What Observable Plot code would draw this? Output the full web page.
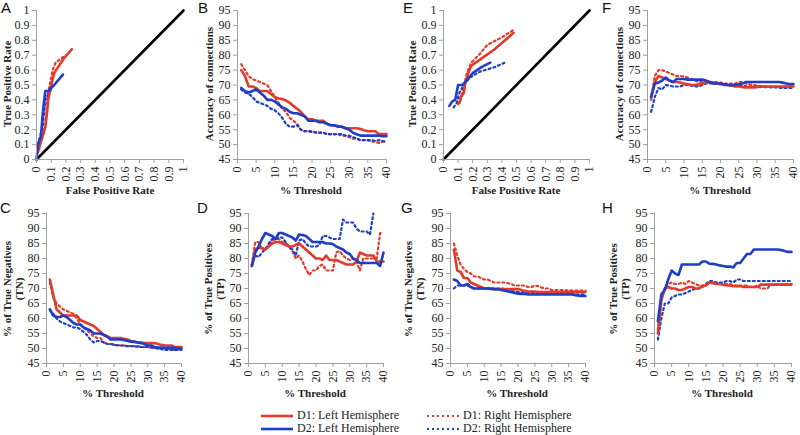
<!DOCTYPE html>
<html><head><meta charset="utf-8">
<script src="https://cdn.jsdelivr.net/npm/d3@7"></script>
<script src="https://cdn.jsdelivr.net/npm/@observablehq/plot@0.6"></script>
<style>
html,body{margin:0;padding:0;background:#fff;}
#root{position:relative;width:800px;height:435px;overflow:hidden;background:#fff;font-family:"Liberation Serif","Times New Roman",Times,"DejaVu Serif",serif;color:#222;}
.panel{position:absolute;}
.letter{position:absolute;font-family:"Liberation Sans",Arial,"DejaVu Sans",sans-serif;font-size:15px;line-height:15px;color:#111;}
.ylab{position:absolute;transform:translate(-50%,-50%) rotate(-90deg);white-space:nowrap;text-align:center;font-weight:bold;font-size:11px;line-height:12px;}
.xlab{position:absolute;transform:translate(-50%,-50%);white-space:nowrap;font-weight:bold;font-size:11px;}
.leg{position:absolute;font-size:12px;white-space:nowrap;display:flex;align-items:center;}
.leg svg{margin-right:3px;}
</style></head>
<body><div id="root"></div>
<script>
// ---------- data ----------
const threshold = [1,2,3,4,5,6,7,8,9,10,11,12,13,14,15,16,17,18,19,20,21,22,23,24,25,26,27,28,29,30,31,32,33,34,35,36,37,38,39,40];
const seriesNames = ["D1: Left Hemisphere","D2: Left Hemisphere","D1: Right Hemisphere","D2: Right Hemisphere"];
const rocTicks = [0,0.1,0.2,0.3,0.4,0.5,0.6,0.7,0.8,0.9,1];
const pctTicks = [45,50,55,60,65,70,75,80,85,90,95];
const thrTicks = [0,5,10,15,20,25,30,35,40];
const diagonal = [0,1];

// Panel A (ROC, dataset 1)
const A_D1L_fpr = [0.01,0.03,0.05,0.06,0.07,0.08,0.09,0.1,0.12,0.14,0.18,0.24];
const A_D1L_tpr = [0.05,0.12,0.18,0.22,0.3,0.4,0.45,0.5,0.58,0.61,0.67,0.74];
const A_D1R_fpr = [0.01,0.04,0.06,0.07,0.08,0.09,0.11,0.13,0.17,0.2];
const A_D1R_tpr = [0.08,0.15,0.22,0.35,0.45,0.5,0.6,0.65,0.68,0.7];
const A_D2L_fpr = [0,0.01,0.02,0.03,0.04,0.05,0.06,0.08,0.12,0.18];
const A_D2L_tpr = [0,0.1,0.13,0.15,0.28,0.38,0.46,0.46,0.5,0.57];
const A_D2R_fpr = [0.01,0.02,0.03,0.04,0.05,0.06,0.08,0.1];
const A_D2R_tpr = [0.1,0.14,0.18,0.2,0.3,0.4,0.44,0.47];

// Panel E (ROC, dataset 2)
const E_D1L_fpr = [0.11,0.12,0.14,0.15,0.17,0.19,0.25,0.35,0.48];
const E_D1L_tpr = [0.38,0.42,0.45,0.52,0.58,0.63,0.67,0.74,0.85];
const E_D1R_fpr = [0.1,0.13,0.16,0.19,0.25,0.3,0.4,0.48];
const E_D1R_tpr = [0.37,0.45,0.58,0.65,0.71,0.77,0.82,0.87];
const E_D2L_fpr = [0.04,0.06,0.08,0.09,0.1,0.13,0.15,0.2,0.26,0.32];
const E_D2L_tpr = [0.36,0.39,0.4,0.45,0.5,0.5,0.52,0.58,0.62,0.65];
const E_D2R_fpr = [0.07,0.09,0.11,0.14,0.18,0.25,0.35,0.42];
const E_D2R_tpr = [0.35,0.38,0.45,0.5,0.55,0.59,0.62,0.65];

// Panel B (accuracy)
const B_D1L = [75,73,69.5,69.5,69,68,68,68,67,66,65.5,65.3,64.8,64,63,62,61,59.5,58.5,58.5,58,58,58,57,56.5,56.5,56.2,56,55.5,55.5,55.5,55.5,55.2,54.8,54.5,54.5,54.5,53.5,53.5,53.5];
const B_D1R = [77,75,73,72,71.5,71,70.5,70,68,66,64,62,61,59,58,57,55,54.5,54.5,54.5,54.2,54,54,53.5,53.5,53.5,53.5,53,53,52.5,52,52,51.5,51.5,51.5,51,51,50.5,51,51];
const B_D2L = [69,68,67.5,68,68.5,67.5,66.5,65,65,64.5,63.5,62.5,62,61,60.5,60.5,60,59.5,58,58,58,57.5,57.5,57,56.5,56.5,56,56,55.5,55,54,53.5,53,53,53,53,53,53,52.8,52.8];
const B_D2R = [68.5,67.5,67,66,64.5,64,63.5,63,62,61.5,60.5,59,57,56,56,56.5,55,54.5,54.5,54.2,54,54,54,53.5,53.5,53.5,53.5,53.5,53,53,52.5,52,51.5,51.5,51.5,51.5,51.2,51.5,51.2,51];

// Panel C (true negatives)
const C_D1L = [73,68,63,62,61,61,61,61,61,59.5,59,58.5,58,57.5,56.5,55.5,54.5,54,53.5,53.5,53.5,53.5,53.2,53,52.5,52.3,52,52,51.8,51.8,51.8,51.8,51.5,51.2,51,51,51,50.5,50.5,50.5];
const C_D1R = [72,67,65,64,63,62.5,62,61.5,60,58,57,56,55,54,53.5,53.5,52,51.5,51.5,51.2,51.2,51,51,50.8,50.8,50.8,50.8,50.5,50.5,50.5,50.3,50.2,50,50,50,50,49.8,49.5,49.8,49.8];
const C_D2L = [63,61,60.5,60.5,61,60.5,59.5,58.5,58,58,57,56.5,56,55,55,55,54.5,54,53,53,53,53,52.8,52.5,52.3,52.2,52,51.8,51.5,51,51,50.5,50.3,50.3,50.2,50.2,50.2,50.2,50,50];
const C_D2R = [63,61.5,60,59,58.5,58,57.5,57,57,56.5,55.5,54.5,53,52,52.5,52.5,52,51.5,51.5,51.3,51,51,51,50.8,50.8,50.7,50.6,50.5,50.5,50.5,50.3,50.2,50,49.8,49.5,49.5,49.5,49.5,49.5,49.5];

// Panel D (true positives)
const D_D1L = [77.5,83,83.5,83.5,83,84,85,85.5,85.5,85,84.5,84,84,84.5,85,84,83,82,81,80,80,79.5,81,79.5,79.5,79.5,79,78.5,78,78,78,79,82,81.5,81,81,81,79,79,79];
const D_D1R = [78,85.5,85.5,83,83,84,86,86.5,86.5,85.5,85,84,82.5,80,81,79,76.5,74.5,76,76,77.5,78,76,76,76,82,82.5,81,80,79.5,80,79,76,80,80,80,80,80,88.5,88.5];
const D_D2L = [77.5,82,84,86.5,88.5,88,87.5,86.5,88.5,88.5,88,87.5,87,86,88,87.8,87.5,86.5,85.5,85.5,85.5,85.5,85,85,84.8,84,83.5,83,82,81.5,80,79.5,78.5,78.5,78.5,78.5,78.5,78.5,77.5,82];
const D_D2R = [78,81,80.5,82,83,85,86.5,86.5,87,87,85.5,84,83,81,86,86.5,85,84,84,84,84.5,87.5,87.5,87,86.5,86.5,86.5,93,92,92,92,90,89,89,89,88,95,null,null,null];

// Panel F (accuracy, dataset 2)
const F_D1L = [66,71,73,72.5,72,71.5,71,71,70.8,70.5,70.3,70,70,70.2,70.5,70.8,71,70.8,70.5,70.3,70,70,69.8,69.5,69.5,69.3,69.2,69.2,69.2,69.3,69.5,69.5,69.5,69.5,69.5,69.5,69.5,69.5,69.5,69.5];
const F_D1R = [65,73,75,75,74.5,74,73.5,73,73,72.8,72.5,72,71.5,71,71,71,71,71,71,70.8,70.5,70.5,70.5,70.5,71,71,70.5,70.2,70,69.8,69.6,69.5,69.5,69.4,69.4,69.3,69.3,69.3,69.3,69.3];
const F_D2L = [66,70.5,70.8,71.5,72.5,71.5,71,72,72,72,71.8,71.8,71.8,71.8,71.8,71.5,71,70.5,70.5,70.5,70.2,70,70,70,70.2,70.5,71,71,71,71,71,71,71,71,71,71,70.8,70.5,70.3,70.3];
const F_D2R = [61,66,69,68.5,70,69.8,69.5,69.5,69.5,70,70,69.8,69.5,69.5,70,70.5,70.5,70.5,70.5,70.5,70.3,70,69.8,69.8,69.8,69.7,69.6,69.5,69.5,69.5,69.4,69.3,69.3,69.2,69.2,69.1,69,69,69,69];

// Panel G (true negatives, dataset 2)
const G_D1L = [83,76,75.5,73.5,73.5,72,71.5,71,70.5,70,70,69.8,69.8,69.8,69.8,69.8,69.8,69.8,69.8,69.8,69.5,69.2,69,69,69,68.8,68.8,68.8,68.8,68.8,68.8,68.8,68.8,68.8,68.8,68.8,68.8,68.8,68.8,68.8];
const G_D1R = [85,81,78,76.5,75.5,75,74,74,73.5,73,73,72.5,72,72,72,72,71.8,71.5,71,71,71,71,70.5,70.5,71,70.8,70.3,70,70,69.5,69.5,69.5,69.5,69.4,69.4,69.3,69.3,69.3,69.3,69.3];
const G_D2L = [73,72.5,71,71,71.5,70.5,70,70,70,70,70,70,69.8,69.8,69.5,69.3,69,68.8,68.5,68.3,68.2,68.2,68,68,68,68,68,68,68,68,68,68,68,68,68,68,67.8,67.6,67.5,67.5];
const G_D2R = [70,71,71,71,71,70.5,70,70,70,70,70,70,70,70,70,69.8,69.5,69.2,69,68.8,68.7,68.6,68.5,68.5,68.5,68.5,68.4,68.4,68.3,68.3,68.3,68.2,68.2,68.2,68.1,68.1,68,68,68,68];

// Panel H (true positives, dataset 2)
const H_D1L = [55,66,70,70.5,70,70,69.5,69.5,70,70.5,70.5,70,70,70.8,71,72,71.8,71.5,71.5,71.3,71,71,70.8,70.8,70.8,70.5,70.5,70.5,70.5,70.5,71.3,71.3,71.3,71.3,71.3,71.3,71.3,71.3,71.3,71.3];
const H_D1R = [56,67,70,71.5,72,71.5,71.5,72,71.5,72.5,72,71.5,71,71,71,72,72,72,71.5,71.5,71.5,71.5,71,71,71,71,71,70.5,70.5,71,70,70,70,71.5,71.5,71.5,71.5,71.5,71.5,71.5];
const H_D2L = [59,68,69.5,73,76,75,74.5,78,78,78,78,78,78,79,79,78.3,78.2,78,77.7,77.5,77.3,77.3,77,78.5,78.5,80,81.5,81.5,83,83,83,83,83,83,83,83,82.8,82.5,82.2,82.2];
const H_D2R = [53,60,65,65,67,67.5,68,68,68.5,69,69.5,70,70,70.5,71.5,72.5,72.5,72,72,72,72.5,72.5,72,73,73,72.5,72.5,72.5,72.5,72.5,72.5,72.5,72.5,72.5,72.5,72.5,72.5,72.5,72.5,72.5];

// ---------- styles ----------
const RED = "#e23b2c", BLUE = "#1f3ec6";
const styleOf = {
  "D1: Left Hemisphere": {stroke: RED, strokeWidth: 2.6},
  "D2: Left Hemisphere": {stroke: BLUE, strokeWidth: 2.6},
  "D1: Right Hemisphere": {stroke: RED, strokeWidth: 2.2, strokeDasharray: "2,3"},
  "D2: Right Hemisphere": {stroke: BLUE, strokeWidth: 2.2, strokeDasharray: "2,3"}
};
const drawOrder = ["D1: Right Hemisphere","D2: Right Hemisphere","D1: Left Hemisphere","D2: Left Hemisphere"];
const SERIF = '"Liberation Serif","Times New Roman",Times,"DejaVu Serif",serif';

const root = document.getElementById("root");
const fmt = d3.format("~g");

function thrSeries(d1l, d2l, d1r, d2r) {
  const m = {"D1: Left Hemisphere": d1l, "D2: Left Hemisphere": d2l, "D1: Right Hemisphere": d1r, "D2: Right Hemisphere": d2r};
  const out = {};
  for (const k of seriesNames) out[k] = threshold.map((t, i) => ({x: t, y: m[k][i]}));
  return out;
}
function rocSeries(arr) {
  const out = {};
  seriesNames.forEach((k, j) => { out[k] = arr[j][0].map((f, i) => ({x: f, y: arr[j][1][i]})); });
  return out;
}

function panel(cfg) {
  const marks = [];
  if (cfg.roc) marks.push(Plot.line(diagonal.map(v => ({x: v, y: v})), {x: "x", y: "y", stroke: "#000", strokeWidth: 2.6}));
  for (const k of drawOrder) {
    marks.push(Plot.line(cfg.series[k], {x: "x", y: "y", ...styleOf[k], strokeLinejoin: "round"}));
  }
  marks.push(Plot.ruleX([cfg.xDomain[0]], {stroke: "#a0a0a0", strokeWidth: 1}));
  marks.push(Plot.ruleY([cfg.yDomain[0]], {stroke: "#a0a0a0", strokeWidth: 1}));
  marks.push(Plot.axisX({ticks: cfg.xTicks, tickFormat: fmt, tickRotate: -90, tickSize: 4, tickPadding: 3, stroke: "#a0a0a0", fill: "#222", label: null, fontFamily: SERIF}));
  marks.push(Plot.axisY({ticks: cfg.yTicks, tickFormat: fmt, tickSize: 4, tickPadding: 3, stroke: "#a0a0a0", fill: "#222", label: null, fontFamily: SERIF}));
  const svg = Plot.plot({
    width: cfg.w, height: cfg.h,
    marginLeft: cfg.ml, marginRight: cfg.mr, marginTop: cfg.mt, marginBottom: cfg.mb,
    x: {domain: cfg.xDomain}, y: {domain: cfg.yDomain},
    style: {fontFamily: SERIF, fontSize: "12px", background: "transparent", overflow: "visible"},
    marks
  });
  const wrap = document.createElement("div");
  wrap.className = "panel";
  wrap.style.left = cfg.left + "px"; wrap.style.top = cfg.top + "px";
  wrap.appendChild(svg);
  root.appendChild(wrap);
}
function text(cls, html, x, y) {
  const d = document.createElement("div");
  d.className = cls; d.innerHTML = html;
  d.style.left = x + "px"; d.style.top = y + "px";
  root.appendChild(d);
}

const rocCommon = {roc: true, xDomain: [0, 1], yDomain: [0, 1], xTicks: rocTicks, yTicks: rocTicks};
const thrCommon = {xDomain: [0, 40], yDomain: [45, 95], xTicks: thrTicks, yTicks: pctTicks};

panel({...rocCommon, left: 0, top: 0, w: 200, h: 200, ml: 36, mr: 17, mt: 10, mb: 41,
  series: rocSeries([[A_D1L_fpr, A_D1L_tpr], [A_D2L_fpr, A_D2L_tpr], [A_D1R_fpr, A_D1R_tpr], [A_D2R_fpr, A_D2R_tpr]])});
panel({...thrCommon, left: 195, top: 0, w: 205, h: 200, ml: 42, mr: 14, mt: 10, mb: 41,
  series: thrSeries(B_D1L, B_D2L, B_D1R, B_D2R)});
panel({...rocCommon, left: 400, top: 0, w: 200, h: 200, ml: 43, mr: 11, mt: 10, mb: 41,
  series: rocSeries([[E_D1L_fpr, E_D1L_tpr], [E_D2L_fpr, E_D2L_tpr], [E_D1R_fpr, E_D1R_tpr], [E_D2R_fpr, E_D2R_tpr]])});
panel({...thrCommon, left: 600, top: 0, w: 200, h: 200, ml: 47, mr: 7, mt: 10, mb: 41,
  series: thrSeries(F_D1L, F_D2L, F_D1R, F_D2R)});
panel({...thrCommon, left: 0, top: 205, w: 200, h: 200, ml: 46, mr: 19, mt: 8, mb: 42,
  series: thrSeries(C_D1L, C_D2L, C_D1R, C_D2R)});
panel({...thrCommon, left: 200, top: 205, w: 200, h: 200, ml: 48, mr: 17, mt: 8, mb: 42,
  series: thrSeries(D_D1L, D_D2L, D_D1R, D_D2R)});
panel({...thrCommon, left: 400, top: 205, w: 200, h: 200, ml: 50, mr: 15, mt: 8, mb: 42,
  series: thrSeries(G_D1L, G_D2L, G_D1R, G_D2R)});
panel({...thrCommon, left: 600, top: 205, w: 200, h: 200, ml: 54, mr: 9, mt: 8, mb: 42,
  series: thrSeries(H_D1L, H_D2L, H_D1R, H_D2R)});

// panel letters
text("letter", "A", 1, 0); text("letter", "B", 198, 0); text("letter", "E", 403, 0); text("letter", "F", 602, 0);
text("letter", "C", 0, 200); text("letter", "D", 197, 200); text("letter", "G", 401, 200); text("letter", "H", 602, 200);

// axis labels
text("ylab", "True Positive Rate", 7, 84);
text("ylab", "Accuracy of connections", 209, 84);
text("ylab", "True Positive Rate", 412, 84);
text("ylab", "Accuracy of connections", 619, 84);
text("ylab", "% of True Negatives<br>(TN)", 13, 289);
text("ylab", "% of True Positives<br>(TP)", 214, 289);
text("ylab", "% of True Negatives<br>(TN)", 414, 289);
text("ylab", "% of True Positives<br>(TP)", 619, 289);
text("xlab", "False Positive Rate", 110, 190);
text("xlab", "% Threshold", 311, 190);
text("xlab", "False Positive Rate", 516, 190);
text("xlab", "% Threshold", 720, 190);
text("xlab", "% Threshold", 113, 393);
text("xlab", "% Threshold", 315, 393);
text("xlab", "% Threshold", 517, 393);
text("xlab", "% Threshold", 722, 393);

// legend
const legendPos = {
  "D1: Left Hemisphere": [260, 408], "D2: Left Hemisphere": [260, 421],
  "D1: Right Hemisphere": [426, 408], "D2: Right Hemisphere": [426, 421]
};
for (const k of seriesNames) {
  const s = styleOf[k];
  const d = document.createElement("div");
  d.className = "leg";
  d.style.left = legendPos[k][0] + "px"; d.style.top = legendPos[k][1] + "px";
  d.innerHTML = `<svg width="34" height="12"><line x1="1" x2="33" y1="6" y2="6" stroke="${s.stroke}" stroke-width="${s.strokeWidth}" ${s.strokeDasharray ? `stroke-dasharray="${s.strokeDasharray}"` : ""}/></svg><span>${k}</span>`;
  root.appendChild(d);
}
</script></body></html>
